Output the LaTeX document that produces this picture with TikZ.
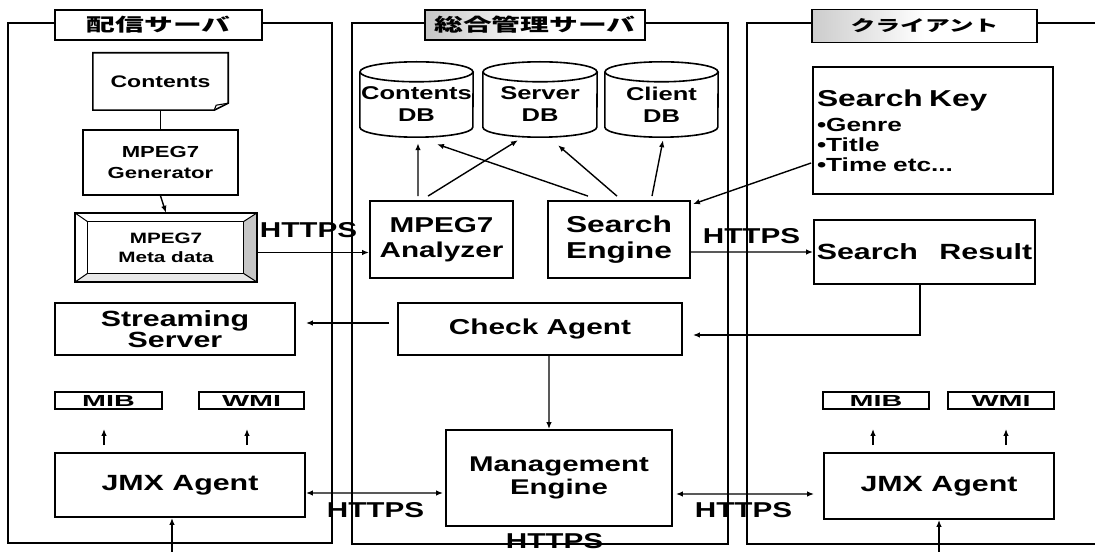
\documentclass[tikz,border=0pt]{standalone}
\usepackage{graphicx}
\usepackage{fontspec}
\setmainfont{Liberation Sans}[FakeStretch=1.38]
\newfontfamily\jp{Noto Sans CJK JP}[FakeStretch=1.6]
\usetikzlibrary{arrows.meta,calc}
\newcommand\fsz[2]{\fontsize{#1bp}{#2bp}\selectfont}
\newcommand\dbcyl[2]{%
 \draw[line width=1.6bp] (#1.north west) -- ([yshift=10bp]#1.south west) arc[start angle=180, end angle=360, x radius=#2bp, y radius=10bp] -- (#1.north east);
 \draw[line width=1.6bp] (#1.north) ellipse [x radius=#2bp, y radius=10bp];}
\tikzset{
 frame/.style={line width=1.8bp},
 hdr/.style={draw, line width=1.8bp, fill=white, minimum height=30bp, inner sep=0pt, font=\jp\bfseries\fsz{18}{20}},
 bx/.style={draw, line width=1.8bp, inner sep=0pt, align=center},
 plain/.style={inner sep=0pt, align=center},
 arr/.style={-{Latex[length=7bp,width=5.5bp]}, line width=1.4bp},
 darr/.style={{Latex[length=7bp,width=5.5bp]}-{Latex[length=7bp,width=5.5bp]}, line width=1.4bp},
 lbl/.style={inner sep=0pt, font=\bfseries\fsz{21.5}{24}},
 small/.style={bx, minimum height=17bp, font=\bfseries\fsz{16}{16}},
}
\begin{document}
\begin{tikzpicture}[x=1bp,y=-1bp]
\useasboundingbox (0,0) rectangle (1095,552);
\fill[white] (0,0) rectangle (1095,552);
% frames
\draw[frame] (8,23) rectangle (332,543);
\draw[frame] (352,23) rectangle (728,544);
\draw[frame] (1095,23) -- (747,23) -- (747,544) -- (1095,544);
% headers
\node[hdr, minimum width=207bp] (hL) at (158.5,25) {配信サーバ};
\node[hdr, minimum width=220bp, left color=gray!45, right color=white, middle color=white] (hM) at (535,25) {総合管理サーバ};
\node[hdr, minimum width=225bp, minimum height=33bp, font=\jp\bfseries\fsz{15.5}{18}, left color=gray!40, right color=white, middle color=white] (hR) at (924.5,26) {クライアント};
% left column
\node[plain, minimum width=135bp, minimum height=57bp, font=\bfseries\fsz{16.7}{20}] (contents) at (160.5,81.5) {Contents};
\draw[line width=1.6bp] (contents.north west) -- (contents.north east) -- ([yshift=7bp]contents.south east) -- ([xshift=-14bp]contents.south east) -- (contents.south west) -- cycle;
\draw[line width=1.1bp] ([xshift=-14bp]contents.south east) -- ([xshift=-12bp,yshift=5bp]contents.south east) -- ([yshift=7bp]contents.south east);
\node[bx, minimum width=155bp, minimum height=65bp, font=\bfseries\fsz{16}{21}] (gen) at (160.5,162.5) {MPEG7\\Generator};
\node[plain, minimum width=182bp, minimum height=69bp, font=\bfseries\fsz{15}{19}] (meta) at (166,247.5) {MPEG7\\Meta data};
\coordinate (mi1) at ([shift={(13bp,-9bp)}]meta.north west);
\coordinate (mi2) at ([shift={(-14bp,9bp)}]meta.south east);
\fill[gray!45] (meta.north east) -- (meta.south east) -- (mi2) -- (mi2 |- mi1) -- cycle;
\fill[gray!18] (meta.south west) -- (meta.south east) -- (mi2) -- (mi1 |- mi2) -- cycle;
\draw[line width=1.8bp] (meta.north west) rectangle (meta.south east);
\draw[line width=1.1bp] (mi1) rectangle (mi2);
\draw[line width=1bp] (meta.north west) -- (mi1) (meta.south east) -- (mi2) (meta.north east) -- (mi2 |- mi1) (meta.south west) -- (mi1 |- mi2);
\node[bx, minimum width=240bp, minimum height=52bp, font=\bfseries\fsz{22}{21}] (stream) at (175,329) {Streaming\\Server};
\node[small, minimum width=107bp] (mibL) at (108.5,400.5) {\scalebox{1.3}[1]{MIB}};
\node[small, minimum width=105bp] (wmiL) at (251.5,400.5) {\scalebox{1.3}[1]{WMI}};
\node[bx, minimum width=250bp, minimum height=64bp, font=\bfseries\fsz{22}{24}] (jmxL) at (180,485) {JMX Agent};
% middle column
\node[plain, minimum width=113bp, minimum height=65bp, font=\bfseries\fsz{18.5}{22}] (cdb) at (416.5,104.5) {Contents\\DB};
\node[plain, minimum width=114bp, minimum height=65bp, font=\bfseries\fsz{18.5}{22}] (sdb) at (540,104.5) {Server\\DB};
\node[plain, minimum width=113bp, minimum height=65bp, font=\bfseries\fsz{18.5}{22}] (kdb) at (661.5,104.5) {Client\\DB};
\dbcyl{cdb}{56.5}
\dbcyl{sdb}{57}
\dbcyl{kdb}{56.5}
\node[bx, minimum width=143bp, minimum height=77bp, font=\bfseries\fsz{21.5}{25}] (analyzer) at (441.5,239.5) {MPEG7\\Analyzer};
\node[bx, minimum width=142bp, minimum height=77bp, font=\bfseries\fsz{23}{26}] (search) at (619,239.5) {Search\\Engine};
\node[bx, minimum width=284bp, minimum height=52bp, font=\bfseries\fsz{21.6}{24}] (check) at (540,329) {Check Agent};
\node[bx, minimum width=226bp, minimum height=96bp, font=\bfseries\fsz{21.3}{23}] (mgmt) at (559,478) {Management\\Engine};
% right column
\node[draw, line width=1.8bp, text width=232bp, inner sep=4bp, minimum height=127bp, align=left, font=\bfseries\fsz{19}{20}] (skey) at (933,130.5) {{\fsz{23}{26}Search Key}\\[5bp]•Genre\\•Title\\•Time etc...};
\node[bx, minimum width=221bp, minimum height=64bp, font=\bfseries\fsz{22}{24}] (sres) at (924.5,252) {Search\hspace{13bp} Result};
\node[small, minimum width=106bp] (mibR) at (876,400.5) {\scalebox{1.3}[1]{MIB}};
\node[small, minimum width=106bp] (wmiR) at (1001,400.5) {\scalebox{1.3}[1]{WMI}};
\node[bx, minimum width=230bp, minimum height=66bp, font=\bfseries\fsz{22}{24}] (jmxR) at (939,486) {JMX Agent};
% labels
\node[lbl] (h1) at (308.5,230) {HTTPS};
\node[lbl] (h2) at (751.5,236.5) {HTTPS};
\node[lbl] (h3) at (375.5,510) {HTTPS};
\node[lbl] (h4) at (743.5,510) {HTTPS};
\node[lbl] (h5) at (554.5,541) {HTTPS};
\coordinate (inL) at (172,552);
\coordinate (inR) at (939,552);
% connectors
\draw[line width=1.4bp] (contents.south) -- (gen.north);
\draw[arr] (gen.south) -- (meta.north);
\draw[arr] ([yshift=-5bp]meta.east) -- ([yshift=-5bp]meta.east -| analyzer.west);
\draw[arr] ([xshift=-23.5bp,yshift=4bp]analyzer.north) -- ([xshift=1.5bp,yshift=-6bp]cdb.south);
\draw[arr] ([xshift=-13.5bp,yshift=4bp]analyzer.north) -- ([xshift=-22bp,yshift=-3bp]sdb.south);
\draw[arr] ([xshift=-31bp,yshift=4bp]search.north) -- ([xshift=20.5bp,yshift=-7bp]cdb.south);
\draw[arr] ([xshift=-2bp,yshift=4bp]search.north) -- ([xshift=18bp,yshift=-8bp]sdb.south);
\draw[arr] ([xshift=33bp,yshift=4bp]search.north) -- ([xshift=1.5bp,yshift=-3bp]kdb.south);
\draw[arr] ([xshift=-1bp,yshift=-32.5bp]skey.west) -- ([xshift=2bp,yshift=-4bp]search.north east);
\draw[arr] ([yshift=-12.5bp]search.east) -- (sres.west);
\draw[arr] ([xshift=-4.5bp]sres.south) |- ([xshift=10bp,yshift=-6bp]check.east);
\draw[arr] ([xshift=-8bp,yshift=6bp]check.west) -- ([xshift=10bp,yshift=6bp]stream.east);
\draw[arr] ([xshift=9bp]check.south) -- ([xshift=-10bp]mgmt.north);
\draw[darr] ([yshift=-8bp]jmxL.east) -- ([xshift=-2bp,yshift=-15bp]mgmt.west);
\draw[darr] ([xshift=3bp,yshift=-16bp]mgmt.east) -- ([xshift=-9bp,yshift=-8bp]jmxR.west);
\draw[arr] ($(mibL.south |- jmxL.north)+(-4.5,-7)$) -- ($(mibL.south)+(-4.5,19)$);
\draw[arr] ($(wmiL.south |- jmxL.north)+(-4.5,-7)$) -- ($(wmiL.south)+(-4.5,19)$);
\draw[arr] ($(mibR.south |- jmxR.north)+(-3,-7)$) -- ($(mibR.south)+(-3,19)$);
\draw[arr] ($(wmiR.south |- jmxR.north)+(5,-7)$) -- ($(wmiR.south)+(5,19)$);
\draw[arr] (inL) -- (inL |- jmxL.south);
\draw[arr] (inR) -- (inR |- jmxR.south);
\end{tikzpicture}
\end{document}
